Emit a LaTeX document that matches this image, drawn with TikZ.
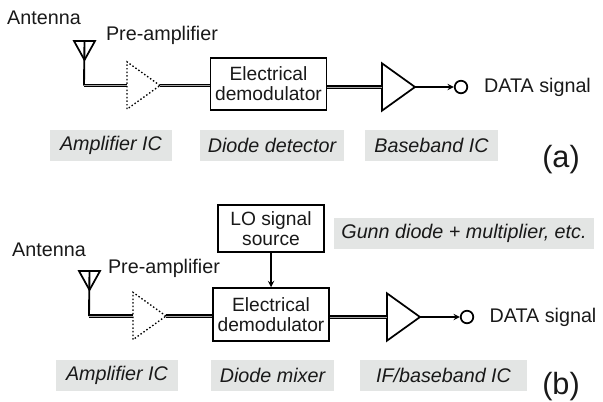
\documentclass[tikz,border=0pt]{standalone}
\usepackage{fontspec}
\setmainfont{Liberation Sans}
\usetikzlibrary{shapes.geometric,arrows}
\definecolor{labelgray}{HTML}{E3E5E4}
\tikzstyle{txt} = [inner sep=0pt, font=\fontsize{14.8}{15}\selectfont, text=black!90]
\tikzstyle{tag} = [txt, rectangle, fill=labelgray, minimum height=23.25pt, font=\fontsize{14.8}{15}\selectfont\itshape]
\tikzstyle{block} = [txt, rectangle, draw=black, line width=1.4pt, align=center, font=\fontsize{14.4}{15}\selectfont]
\tikzstyle{amp} = [isosceles triangle, isosceles triangle apex angle=71, isosceles triangle stretches, minimum height=24.75pt, minimum width=35.5pt, inner sep=0pt, outer sep=0pt, anchor=lower side, draw=black, line width=1.3pt]
\tikzstyle{preamp} = [amp, line width=1pt, dash pattern=on 1.1pt off 1.6pt]
\tikzstyle{aerial} = [isosceles triangle, isosceles triangle apex angle=60, shape border rotate=-90, isosceles triangle stretches, minimum height=14.25pt, minimum width=15.75pt, inner sep=0pt, outer sep=0pt, anchor=apex, draw=black, line width=1.3pt]
\tikzstyle{port} = [circle, draw=black, line width=1.3pt, minimum size=9.4pt, inner sep=0pt]
\tikzstyle{wire} = [line width=1.4pt]
\tikzstyle{bus} = [double=black!35, double distance=0.5pt, line width=1.05pt]
\tikzstyle{arrow} = [line width=1.1pt,->,>=stealth]
\begin{document}
\begin{tikzpicture}[x=0.75pt,y=-0.75pt]
  \useasboundingbox (0,0) rectangle (603,401);
  % (a)
  \node [txt] (anta) at (44,18) {Antenna};
  \node [txt] (prea) at (162,35) {Pre-amplifier};
  \node [aerial] (aera) at (84.5,60) {};
  \coordinate (benda) at (84,85.5);
  \node [preamp] (ampa) at (127,85.5) {};
  \node [block, minimum width=87pt, minimum height=39pt] (demoa) at (268.5,84) {Electrical\\demodulator};
  \node [amp] (basea) at (382,87) {};
  \node [port] (outa) at (461,87) {};
  \node [txt] (dataa) at (537.5,87) {DATA signal};
  \node [tag, minimum width=91.5pt] (tagampa) at (111,145.5) {Amplifier IC};
  \node [tag, minimum width=108pt] (tagdiodea) at (272,145.5) {Diode detector};
  \node [tag, minimum width=99.75pt] (tagbasea) at (431.5,145.5) {Baseband IC};
  \node [txt, font=\fontsize{23}{25}\selectfont] (capa) at (561,160) {(a)};
  \draw [wire] (aera.lower side) -- (benda);
  \draw [bus] (benda) -- (ampa.lower side);
  \draw [bus] (ampa.apex) -- (demoa.west |- ampa.apex);
  \draw [bus] (demoa.east |- basea.lower side) -- (basea.lower side);
  \draw [arrow] (basea.apex) -- (outa.west);
  % (b)
  \node [txt] (antb) at (49,250) {Antenna};
  \node [txt] (preb) at (164,268) {Pre-amplifier};
  \node [aerial] (aerb) at (89.5,290) {};
  \coordinate (bendb) at (89,316);
  \node [preamp] (ampb) at (133,316) {};
  \node [block, minimum width=87pt, minimum height=39.5pt] (demob) at (271,314.5) {Electrical\\demodulator};
  \node [block, minimum width=79.5pt, minimum height=35pt] (lob) at (271,228.5) {LO signal\\source};
  \node [amp] (baseb) at (387,317) {};
  \node [port] (outb) at (467,317) {};
  \node [txt] (datab) at (543,317) {DATA signal};
  \node [tag, minimum width=195pt] (taggunnb) at (464,233.5) {Gunn diode + multiplier, etc.};
  \node [tag, minimum width=91.5pt] (tagampb) at (117,375.5) {Amplifier IC};
  \node [tag, minimum width=92.25pt] (tagdiodeb) at (272.5,375.5) {Diode mixer};
  \node [tag, minimum width=125.25pt] (tagbaseb) at (443.5,375.5) {IF/baseband IC};
  \node [txt, font=\fontsize{23}{25}\selectfont] (capb) at (561,387) {(b)};
  \draw [wire] (aerb.lower side) -- (bendb);
  \draw [bus] (bendb) -- (ampb.lower side);
  \draw [bus] (ampb.apex) -- (demob.west |- ampb.apex);
  \draw [bus] (demob.east |- baseb.lower side) -- (baseb.lower side);
  \draw [arrow] (baseb.apex) -- (outb.west);
  \draw [arrow] (lob.south) -- (demob.north);
\end{tikzpicture}
\end{document}
